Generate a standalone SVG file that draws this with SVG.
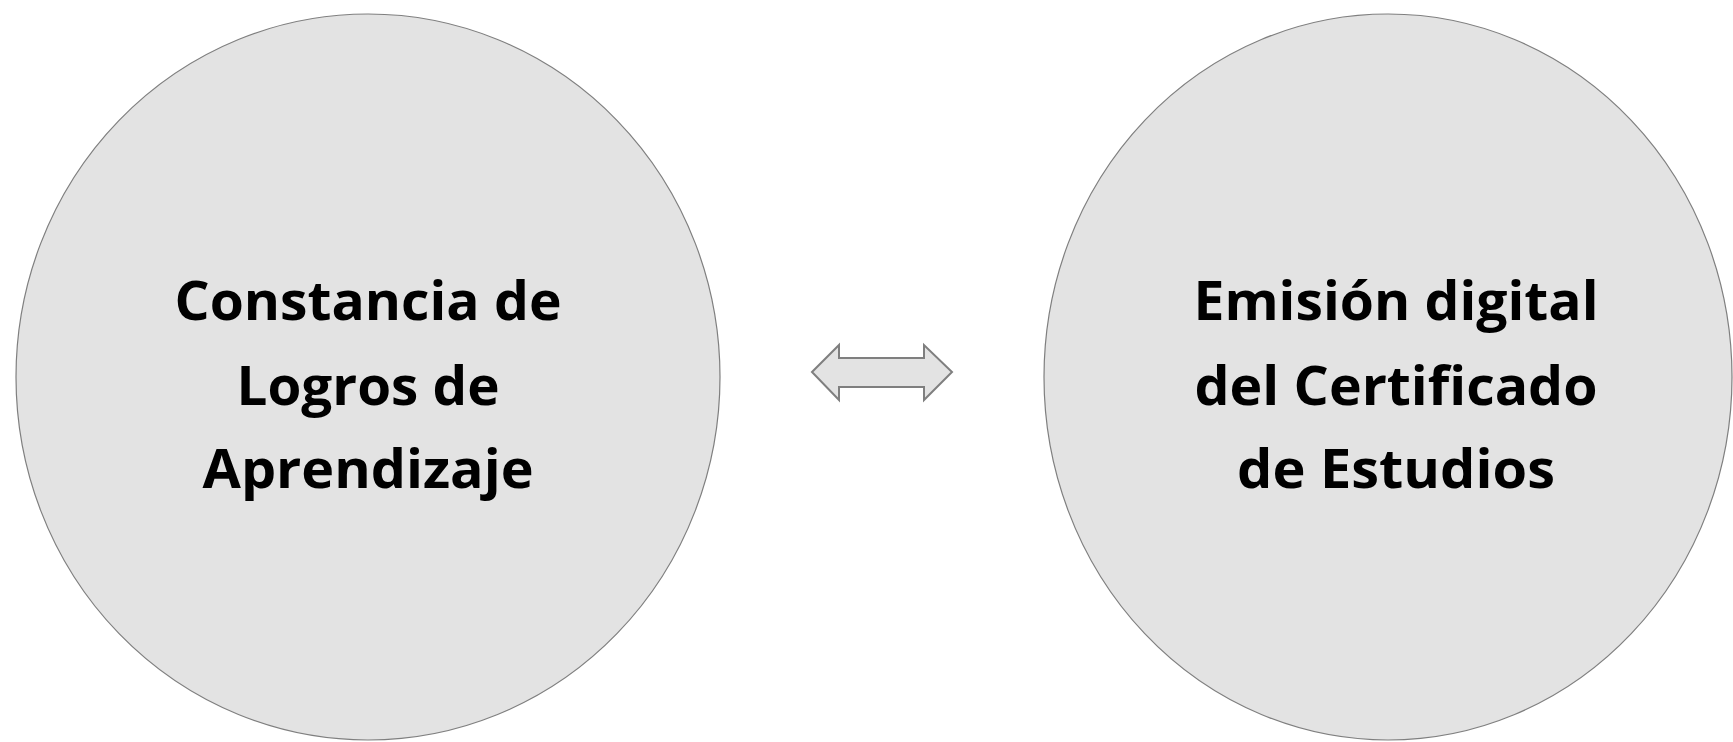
<svg xmlns="http://www.w3.org/2000/svg" width="1733" height="742" viewBox="0 0 1733 742">
<style>
.node{fill:#e3e3e3;stroke:#7f7f7f;stroke-width:1.2}
.lbl{font-family:"Open Sans",Lato,"Liberation Sans",sans-serif;font-weight:bold;font-size:53px;fill:#000;text-anchor:middle;font-variant-ligatures:none}
.arrow{fill:#e3e3e3;stroke:#7f7f7f;stroke-width:2;stroke-linejoin:miter}
</style>
<rect width="1733" height="742" fill="#ffffff"/>
<g id="node-left">
<ellipse class="node" cx="368" cy="377" rx="352" ry="363"/>
<text class="lbl" x="368" y="320" textLength="387" lengthAdjust="spacingAndGlyphs">Constancia de</text>
<text class="lbl" x="368" y="405" textLength="263" lengthAdjust="spacingAndGlyphs">Logros de</text>
<text class="lbl" x="368" y="488" textLength="331" lengthAdjust="spacingAndGlyphs">Aprendizaje</text>
</g>
<g id="node-right">
<ellipse class="node" cx="1388" cy="377" rx="344" ry="363"/>
<text class="lbl" x="1396" y="320" textLength="405" lengthAdjust="spacingAndGlyphs">Emisión digital</text>
<text class="lbl" x="1396" y="405" textLength="403" lengthAdjust="spacingAndGlyphs">del Certificado</text>
<text class="lbl" x="1396" y="488" textLength="318" lengthAdjust="spacingAndGlyphs">de Estudios</text>
</g>
<g id="connectors">
<path class="arrow" d="M812,372 L839,345 L839,358 L924,358 L924,345 L952,372 L924,400 L924,387 L839,387 L839,400 Z"/>
</g>
</svg>
